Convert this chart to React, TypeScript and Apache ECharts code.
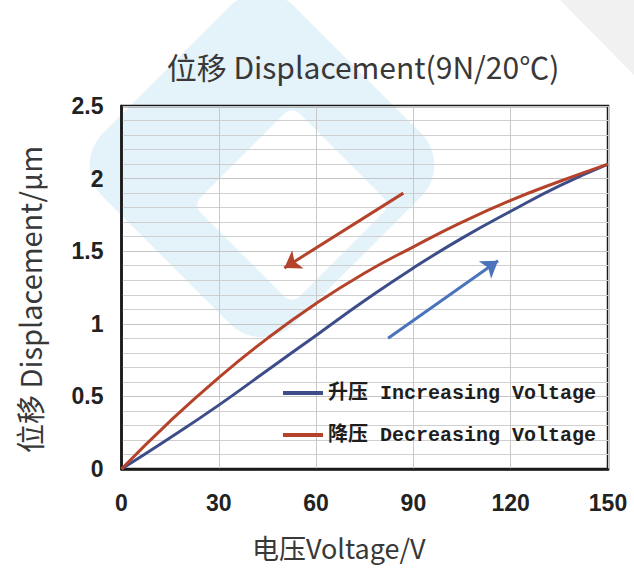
import React, { useEffect, useRef } from "react";
import * as echarts from "echarts";

const voltage = [0, 15, 30, 45, 60, 75, 90, 105, 120, 135, 150];
const increasing = [0, 0.215, 0.44, 0.68, 0.92, 1.16, 1.385, 1.59, 1.775, 1.95, 2.1];
const decreasing = [0, 0.33, 0.63, 0.9, 1.14, 1.35, 1.53, 1.7, 1.85, 1.98, 2.1];
const seriesNames = ["升压 Increasing Voltage", "降压 Decreasing Voltage"];
const titleText = "位移 Displacement(9N/20℃)";
const xName = "电压Voltage/V";
const yName = "位移 Displacement/μm";
// arrow annotations in data units: [x0, y0, x1, y1]
const decArrow = [86.9, 1.9, 50.2, 1.385];
const incArrow = [82.2, 0.9, 116.1, 1.434];

const BLUE = "#3d4d8a";
const RED = "#b5432b";
const ARROW_BLUE = "#4a73bb";

export default function App() {
  const ref = useRef<HTMLDivElement>(null);
  useEffect(() => {
    document.body.style.margin = "0";
    const chart = echarts.init(ref.current!, undefined, { renderer: "svg" });
    const tickFont = "'Liberation Sans', Arial, sans-serif";
    const cjkFont = "'Noto Sans CJK SC', 'Noto Sans', sans-serif";
    chart.setOption({
      animation: false,
      backgroundColor: "#ffffff",
      title: {
        text: titleText,
        left: 358,
        textAlign: "center",
        top: 46,
        textStyle: { fontFamily: cjkFont, fontWeight: "normal", fontSize: 30, color: "#383838" },
      },
      graphic: [
        {
          type: "rect", z: -10, silent: true, x: 262, y: 165, rotation: Math.PI / 4,
          shape: { x: -135, y: -135, width: 270, height: 270, r: 45 },
          style: { fill: "#e4f2fa" },
        },
        {
          type: "rect", z: -9, silent: true, x: 292, y: 205, rotation: Math.PI / 4,
          shape: { x: -70, y: -70, width: 140, height: 140, r: 10 },
          style: { fill: "#ffffff" },
        },
        {
          type: "polygon", z: -10, silent: true,
          shape: { points: [[560, 0], [634, 0], [634, 75]] },
          style: { fill: "#f1f1f1" },
        },
      ],
      grid: {
        left: 121.5, right: 26, top: 106, bottom: 101,
        outerBoundsMode: "none",
        containLabel: false,
        show: true, borderColor: "#1a1a1a", borderWidth: 2.5, backgroundColor: "transparent",
      },
      legend: {
        orient: "vertical", left: 278, top: 378, icon: "rect", itemWidth: 40, itemHeight: 4, itemGap: 22,
        data: seriesNames,
        textStyle: { fontFamily: "'Liberation Mono', 'Noto Sans CJK SC', monospace", fontWeight: "bold", fontSize: 20, color: "#1e1e1e" },
      },
      xAxis: {
        type: "value", min: 0, max: 150, interval: 30,
        name: xName, nameLocation: "middle", nameGap: 65,
        nameTextStyle: { fontFamily: cjkFont, fontSize: 27, color: "#383838", padding: [0, 52, 0, 0] },
        axisLine: { show: true, lineStyle: { color: "#1a1a1a", width: 2.5 } },
        axisTick: { show: false },
        axisLabel: { margin: 22, fontFamily: tickFont, fontWeight: "bold", fontSize: 23, color: "#222" },
        splitLine: { show: true, lineStyle: { color: "#c8c8c8", width: 1 } },
      },
      yAxis: {
        type: "value", min: 0, max: 2.5, interval: 0.5,
        name: yName, nameLocation: "middle", nameGap: 78,
        nameTextStyle: { fontFamily: cjkFont, fontSize: 29, color: "#383838", padding: [0, 24, 0, 0] },
        axisLine: { show: true, lineStyle: { color: "#1a1a1a", width: 2.5 } },
        axisTick: { show: false },
        axisLabel: { margin: 18, fontFamily: tickFont, fontWeight: "bold", fontSize: 23, color: "#222" },
        splitLine: { show: true, lineStyle: { color: "#c4c4c4", width: 1 } },
        minorSplitLine: { show: true, lineStyle: { color: "#cfcfcf", width: 1 } },
      },
      series: [
        {
          name: seriesNames[0], type: "line", smooth: true, symbol: "none",
          lineStyle: { color: BLUE, width: 3 }, itemStyle: { color: BLUE },
          data: voltage.map((v, i) => [v, increasing[i]]), z: 3,
          markLine: {
            silent: true, symbol: ["none", "arrow"], symbolSize: 16, label: { show: false },
            lineStyle: { color: ARROW_BLUE, width: 3, type: "solid" },
            data: [[{ coord: [incArrow[0], incArrow[1]] }, { coord: [incArrow[2], incArrow[3]] }]],
          },
        },
        {
          name: seriesNames[1], type: "line", smooth: true, symbol: "none",
          lineStyle: { color: RED, width: 3 }, itemStyle: { color: RED },
          data: voltage.map((v, i) => [v, decreasing[i]]), z: 4,
          markLine: {
            silent: true, symbol: ["none", "arrow"], symbolSize: 16, label: { show: false },
            lineStyle: { color: RED, width: 3, type: "solid" },
            data: [[{ coord: [decArrow[0], decArrow[1]] }, { coord: [decArrow[2], decArrow[3]] }]],
          },
        },
      ],
    });
    return () => chart.dispose();
  }, []);
  return <div ref={ref} style={{ width: 634, height: 570 }} />;
}
